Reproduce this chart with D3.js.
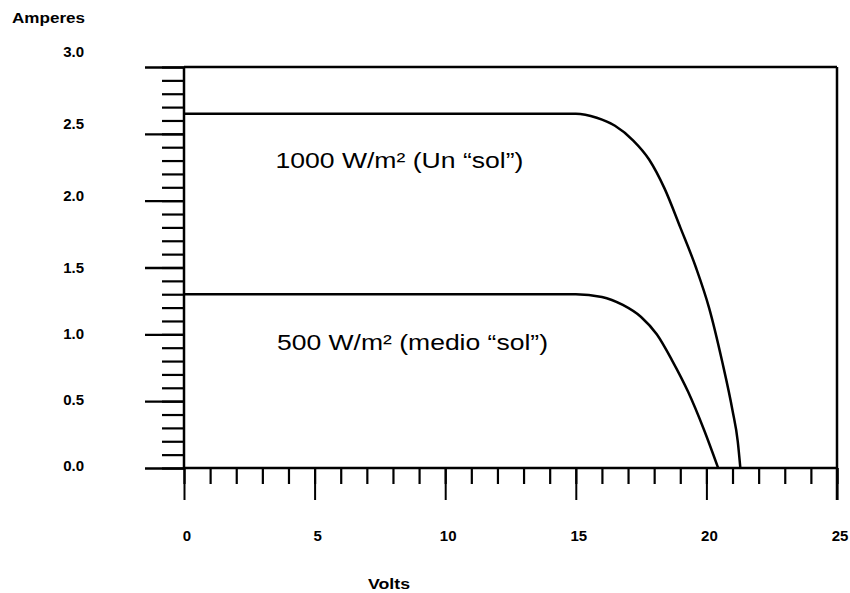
<!DOCTYPE html>
<html>
<head>
<meta charset="utf-8">
<script src="https://cdn.jsdelivr.net/npm/d3@7"></script>
<style>
  html, body { margin: 0; padding: 0; background: #fff; }
  svg { display: block; font-family: "Liberation Sans", Arial, sans-serif; }
</style>
</head>
<body>
<svg id="chart" width="850" height="593"></svg>
<script>
// ---- data ----
const volts1000 = [0, 10, 15.0, 15.8, 16.5, 17.2, 17.8, 18.4, 19.0, 19.6, 20.1, 20.6, 21.0, 21.2, 21.3];
const amps1000  = [2.65, 2.65, 2.65, 2.62, 2.56, 2.45, 2.31, 2.09, 1.80, 1.50, 1.20, 0.80, 0.43, 0.20, 0];
const volts500  = [0, 10, 15.0, 16.0, 16.8, 17.5, 18.1, 18.7, 19.3, 19.9, 20.45];
const amps500   = [1.30, 1.30, 1.30, 1.28, 1.22, 1.13, 1.00, 0.80, 0.57, 0.29, 0];
const xTickValues = [0, 5, 10, 15, 20, 25];
const xTickLabels = ["0", "5", "10", "15", "20", "25"];
const yTickValues = [0, 0.5, 1.0, 1.5, 2.0, 2.5, 3.0];
const yTickLabels = ["0.0", "0.5", "1.0", "1.5", "2.0", "2.5", "3.0"];
const curveLabels = ["1000 W/m² (Un “sol”)", "500 W/m² (medio “sol”)"];
const curveLabelAt = [[3.5, 2.245], [3.56, 0.88]]; // [volts, amps] anchor of each label
const yTitle = "Amperes";
const xTitle = "Volts";

// ---- layout ----
const svg = d3.select("#chart");
const x = d3.scaleLinear().domain([0, 25]).range([184, 837]);
const y = d3.scaleLinear().domain([0, 3]).range([468, 67]);
// the tick labels of the scanned original drift from their ticks
const yLab = d3.scaleLinear().domain([0, 1.5, 3]).range([466, 268, 52]);

const stroke = "#000";

// minor / major y ticks
const yAxisMinor = d3.axisLeft(y).tickValues(d3.range(0, 3.001, 0.1)).tickSize(22).tickFormat("");
const yAxisMajor = d3.axisLeft(y).tickValues(yTickValues).tickSize(39).tickFormat("");
svg.append("g").attr("transform", `translate(${x(0)},0)`).call(yAxisMinor)
  .call(g => g.select(".domain").remove())
  .selectAll("line").attr("stroke", stroke).attr("stroke-width", 2.2);
svg.append("g").attr("transform", `translate(${x(0)},0)`).call(yAxisMajor)
  .call(g => g.select(".domain").remove())
  .selectAll("line").attr("stroke", stroke).attr("stroke-width", 2.4);

// minor / major x ticks
const xAxisMinor = d3.axisBottom(x).tickValues(d3.range(0, 25.001, 1)).tickSize(16).tickFormat("");
const xAxisMajor = d3.axisBottom(x).tickValues(xTickValues).tickSize(32).tickFormat("");
svg.append("g").attr("transform", `translate(0,${y(0)})`).call(xAxisMinor)
  .call(g => g.select(".domain").remove())
  .selectAll("line").attr("stroke", stroke).attr("stroke-width", 2.2);
svg.append("g").attr("transform", `translate(0,${y(0)})`).call(xAxisMajor)
  .call(g => g.select(".domain").remove())
  .selectAll("line").attr("stroke", stroke).attr("stroke-width", 2);

// frame
const frame = svg.append("g").attr("stroke", stroke).attr("stroke-width", 2.5).attr("fill", "none");
frame.append("line").attr("x1", x(0)).attr("x2", x(25)).attr("y1", y(3)).attr("y2", y(3));
frame.append("line").attr("x1", x(0)).attr("x2", x(25)).attr("y1", y(0)).attr("y2", y(0));
frame.append("line").attr("x1", x(0)).attr("x2", x(0)).attr("y1", y(3)).attr("y2", y(0));
frame.append("line").attr("x1", x(25)).attr("x2", x(25)).attr("y1", y(3)).attr("y2", y(0) + 32);

// tick labels
svg.append("g").selectAll("text").data(yTickValues).join("text")
  .attr("x", 84).attr("y", d => yLab(d)).attr("dy", "0.35em")
  .attr("text-anchor", "end").attr("font-size", 15).attr("font-weight", "bold")
  .text((d, i) => yTickLabels[i]);
svg.append("g").selectAll("text").data(xTickValues).join("text")
  .attr("x", d => x(d) + 3).attr("y", 541)
  .attr("text-anchor", "middle").attr("font-size", 15).attr("font-weight", "bold")
  .text((d, i) => xTickLabels[i]);

// axis titles
svg.append("text").attr("x", 12).attr("y", 23).attr("font-size", 15).attr("font-weight", "bold")
  .attr("textLength", 73).attr("lengthAdjust", "spacingAndGlyphs").text(yTitle);
svg.append("text").attr("x", 368).attr("y", 589).attr("font-size", 15).attr("font-weight", "bold")
  .attr("textLength", 42).attr("lengthAdjust", "spacingAndGlyphs").text(xTitle);

// curves
const line = d3.line().x(d => x(d[0])).y(d => y(d[1])).curve(d3.curveMonotoneX);
const series = [d3.zip(volts1000, amps1000), d3.zip(volts500, amps500)];
svg.append("g").selectAll("path").data(series).join("path")
  .attr("d", line).attr("fill", "none").attr("stroke", stroke).attr("stroke-width", 2.5)
  .attr("stroke-linejoin", "round");

// curve labels
const labelWidths = [248, 271];
svg.append("g").selectAll("text").data(curveLabels).join("text")
  .attr("x", (d, i) => x(curveLabelAt[i][0]))
  .attr("y", (d, i) => y(curveLabelAt[i][1]))
  .attr("font-size", 22)
  .attr("textLength", (d, i) => labelWidths[i]).attr("lengthAdjust", "spacingAndGlyphs")
  .text(d => d);
</script>
</body>
</html>
